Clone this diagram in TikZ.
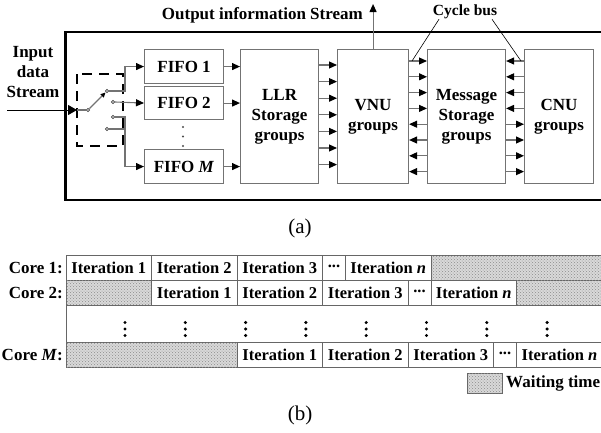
\documentclass[tikz,border=0pt]{standalone}
\usepackage{fontspec}
\setmainfont{Liberation Serif}
\usetikzlibrary{arrows.meta,patterns,positioning}

\begin{document}
\begin{tikzpicture}[x=1pt, y=-1pt, >={Triangle[length=8pt,width=7pt,black]}]
\tikzset{gbox/.style={draw=black!55, line width=1.1pt, rectangle, inner sep=0, anchor=north west, align=center, font=\fontsize{17}{20}\selectfont\bfseries},
  link/.style={draw=black!55, line width=1.1pt, ->},
  contact/.style={circle, draw=black!75, fill=white, inner sep=0, minimum size=3.4pt, line width=0.7pt},
  cell/.style={draw=black!60, line width=0.9pt, rectangle, inner sep=0, outer sep=0, anchor=north west, minimum height=25pt, font=\fontsize{16.5}{18}\selectfont\bfseries},
  wait/.style={cell, fill=black!15, postaction={pattern=crosshatch dots, pattern color=black!45}},
  lab/.style={font=\fontsize{17}{20}\selectfont\bfseries, inner sep=0, align=center}}
\def\vdotcol#1{ % #1 x position
\foreach \d in {-6.5,0,6.5} \fill (#1,329+\d) circle (1.7pt);}
\def\celldots{\raisebox{2pt}{...}}
\useasboundingbox (0,0) rectangle (601,432);

%% (a) decoder core
\draw[line width=2.4pt] (610,32) -- (65.5,32) -- (65.5,200) -- (610,200);
\node[gbox, minimum width=79pt, minimum height=34pt] (fifo1) at (144,49) {FIFO 1};
\node[gbox, minimum width=79pt, minimum height=33pt] (fifo2) at (144,86) {FIFO 2};
\node[gbox, minimum width=79pt, minimum height=34pt] (fifom) at (144,149) {FIFO \textit{M}};
\node[gbox, minimum width=78pt, minimum height=134pt] (llr) at (240,49) {LLR\\Storage\\groups};
\node[gbox, minimum width=71pt, minimum height=134pt] (vnu) at (337,49) {VNU\\groups};
\node[gbox, minimum width=78pt, minimum height=134pt] (msg) at (427,49) {Message\\Storage\\groups};
\node[gbox, minimum width=69pt, minimum height=134pt] (cnu) at (524,49) {CNU\\groups};
\foreach \d in {127,136.5,146} \fill[black!70] (183,\d) circle (1.1pt);

% input switch
\node[lab] (inlab) at (33,72) {Input\\data\\Stream};
\coordinate (feed) at (7,110);
\coordinate (swin) at (77,110);
\coordinate (bar) at (125,0);
\node[contact] (pivot) at (88,110) {};
\node[contact] (c1) at (107,91) {};
\node[contact] (c2) at (113,102) {};
\node[contact] (c3) at (113,117) {};
\node[contact] (c4) at (107,129) {};
\draw[line width=2.2pt, dash pattern=on 10pt off 7pt] (77,74) rectangle (123,146);
\draw[line width=0.9pt, -{Triangle[length=9pt,width=10pt,black]}] (feed) -- (swin);
\draw[link, -] (swin) -- (pivot);
\draw[link, -{Triangle[length=5pt,width=4.5pt,black]}] (pivot) -- (c1);
\draw[link] (c1.east) -- (c1.east -| bar) |- (fifo1.west);
\draw[link] (c2.east) -- (fifo2.west);
\draw[link, -] (c4.east) -- (c4.east -| bar);
\draw[link] (c3.east) -- (c3.east -| bar) |- (fifom.west);

% paths
\foreach \f in {fifo1,fifo2,fifom} \draw[link] (\f.east) -- (llr.west |- \f.east);
\foreach \k [evaluate=\k as \y using 65+16.6*\k] in {0,...,6}
  \draw[link] (llr.east |- 0,\y) -- (vnu.west |- 0,\y);
\foreach \k [evaluate=\k as \y using 61+15.8*\k] in {0,...,3} {
  \draw[link] (vnu.east |- 0,\y) -- (msg.west |- 0,\y);
  \draw[link] (cnu.west |- 0,\y) -- (msg.east |- 0,\y);}
\foreach \k [evaluate=\k as \y using 61+15.8*\k] in {4,...,7} {
  \draw[link] (msg.west |- 0,\y) -- (vnu.east |- 0,\y);
  \draw[link] (msg.east |- 0,\y) -- (cnu.west |- 0,\y);}
\coordinate (outtop) at (372,4);
\draw[link] (vnu.north) -- (vnu.north |- outtop);
\node[lab, anchor=east] (outlab) at (363,15) {Output information Stream};

% cycle bus
\node[lab, font=\fontsize{15.5}{18}\selectfont\bfseries] (cyclebus) at (465,12) {Cycle bus};
\coordinate (busl) at (412,61);
\coordinate (busr) at (521,61);
\draw[line width=0.6pt] ([xshift=-26pt]cyclebus.south) -- (busl);
\draw[line width=0.6pt] ([xshift=27pt]cyclebus.south) -- (busr);
\node[font=\fontsize{21}{24}\selectfont] (capa) at (300,228) {(a)};

%% (b) core schedule
\node[cell, minimum width=85.5pt] (r1a) at (66,255) {Iteration 1};
\node[cell, minimum width=85.5pt] (r1b) at (r1a.north east) {Iteration 2};
\node[cell, minimum width=85.5pt] (r1c) at (r1b.north east) {Iteration 3};
\node[cell, minimum width=23pt] (r1d) at (r1c.north east) {\celldots};
\node[cell, minimum width=85.5pt] (r1e) at (r1d.north east) {Iteration \textit{n}};
\node[wait, minimum width=180pt] (r1w) at (r1e.north east) {};

\node[wait, minimum width=85.5pt] (r2w) at (66,280) {};
\node[cell, minimum width=85.5pt] (r2a) at (r2w.north east) {Iteration 1};
\node[cell, minimum width=85.5pt] (r2b) at (r2a.north east) {Iteration 2};
\node[cell, minimum width=85.5pt] (r2c) at (r2b.north east) {Iteration 3};
\node[cell, minimum width=23pt] (r2d) at (r2c.north east) {\celldots};
\node[cell, minimum width=85.5pt] (r2e) at (r2d.north east) {Iteration \textit{n}};
\node[wait, minimum width=95pt] (r2v) at (r2e.north east) {};

\node[wait, minimum width=171pt] (rmw) at (66,342) {};
\node[cell, minimum width=85.5pt] (rma) at (rmw.north east) {Iteration 1};
\node[cell, minimum width=85.5pt] (rmb) at (rma.north east) {Iteration 2};
\node[cell, minimum width=85.5pt] (rmc) at (rmb.north east) {Iteration 3};
\node[cell, minimum width=23pt] (rmd) at (rmc.north east) {\celldots};
\node[cell, minimum width=86pt] (rme) at (rmd.north east) {Iteration \textit{n}};
\draw[draw=black!60, line width=0.9pt] (r2w.south west) -- (rmw.north west);
\foreach \x in {125,185.3,245.6,305.9,366.2,426.5,486.8,547.1} {\vdotcol{\x}}

% row labels
\node[lab, left=3pt of r1a] (core1) {Core 1:};
\node[lab, left=3pt of r2w] (core2) {Core 2:};
\node[lab, left=3pt of rmw] (corem) {Core \textit{M}:};

% legend
\node[wait, minimum width=35pt, minimum height=20pt] (legbox) at (467,373) {};
\node[lab, right=4pt of legbox] (leglab) {Waiting time};
\node[font=\fontsize{21}{24}\selectfont] (capb) at (300,415) {(b)};
\end{tikzpicture}
\end{document}
